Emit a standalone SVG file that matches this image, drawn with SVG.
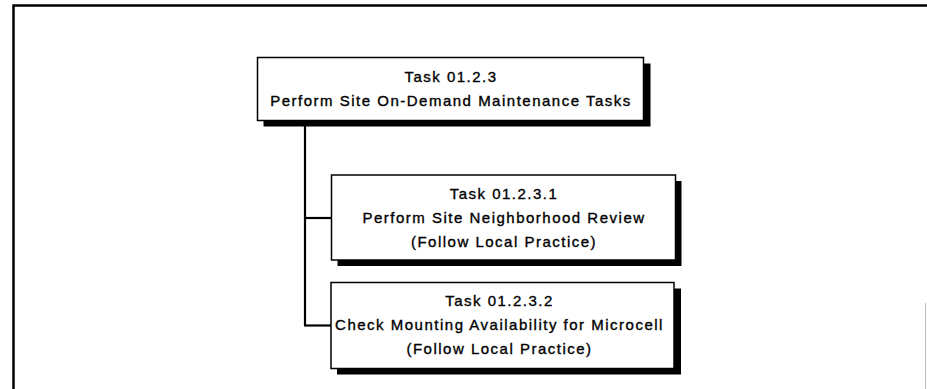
<svg xmlns="http://www.w3.org/2000/svg" width="927" height="389" viewBox="0 0 927 389">
  <style>
    .shadow { fill: #000; }
    .box { fill: #fff; stroke: #000; stroke-width: 1.5; }
    .lbl { font-family: "Liberation Sans", Arial, sans-serif; font-size: 15px; letter-spacing: 1.5px; fill: #000; stroke: #000; stroke-width: 0.35; text-anchor: middle; }
    .conn { fill: none; stroke: #000; stroke-width: 2.2; }
    .frame { fill: none; stroke: #000; stroke-width: 2.5; }
  </style>
  <rect width="927" height="389" fill="#fff"/>
  <g id="frame">
    <path class="frame" d="M13.5,389 V5.5 H927"/>
    <line x1="925.5" y1="303" x2="925.5" y2="389" stroke="#bbb" stroke-width="1"/>
  </g>
  <g id="connectors">
    <path class="conn" d="M305,121 V326"/>
    <path class="conn" d="M304,218 H331.5"/>
    <path class="conn" d="M304,325.5 H331"/>
  </g>
  <g id="task-01-2-3">
    <rect class="shadow" x="263.5" y="63.5" width="387" height="63"/>
    <rect class="box" x="257.5" y="57.5" width="386" height="63"/>
    <text class="lbl" x="451" y="82">Task 01.2.3</text>
    <text class="lbl" x="451" y="106">Perform Site On-Demand Maintenance Tasks</text>
  </g>
  <g id="task-01-2-3-1">
    <rect class="shadow" x="337.5" y="181" width="344" height="85"/>
    <rect class="box" x="331.5" y="175" width="344" height="85"/>
    <text class="lbl" x="504" y="199">Task 01.2.3.1</text>
    <text class="lbl" x="504" y="223">Perform Site Neighborhood Review</text>
    <text class="lbl" x="504" y="247">(Follow Local Practice)</text>
  </g>
  <g id="task-01-2-3-2">
    <rect class="shadow" x="337" y="288.5" width="344" height="86"/>
    <rect class="box" x="331" y="282.5" width="343" height="86"/>
    <text class="lbl" x="499.5" y="306">Task 01.2.3.2</text>
    <text class="lbl" x="499.5" y="330">Check Mounting Availability for Microcell</text>
    <text class="lbl" x="499.5" y="354">(Follow Local Practice)</text>
  </g>
</svg>
